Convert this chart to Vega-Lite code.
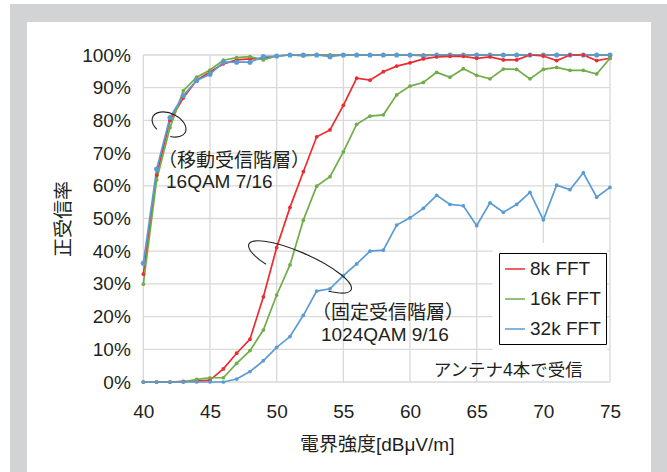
{
  "$schema": "https://vega.github.io/schema/vega-lite/v6.json",
  "width": 466.67,
  "height": 327,
  "autosize": {"type": "none"},
  "padding": {"left": 143.33, "top": 55, "right": 57, "bottom": 90},
  "background": "#ffffff",
  "config": {
    "view": {"stroke": null},
    "font": "Liberation Sans, Noto Sans CJK JP",
    "axis": {
      "grid": false, "domain": false, "ticks": false, "labelOverlap": false,
      "labelFont": "Liberation Sans, Noto Sans CJK JP",
      "titleFont": "Liberation Sans, Noto Sans CJK JP",
      "labelFontSize": 19, "labelColor": "#231f20",
      "titleFontSize": 19, "titleColor": "#231f20", "titleFontWeight": "normal"
    }
  },
  "datasets": {
    "series": [
      {"x":40,"y":33.0,"fft":"8k FFT","layer":"mobile"},{"x":41,"y":63.3,"fft":"8k FFT","layer":"mobile"},{"x":42,"y":80.0,"fft":"8k FFT","layer":"mobile"},{"x":43,"y":86.9,"fft":"8k FFT","layer":"mobile"},{"x":44,"y":92.3,"fft":"8k FFT","layer":"mobile"},{"x":45,"y":94.8,"fft":"8k FFT","layer":"mobile"},{"x":46,"y":97.3,"fft":"8k FFT","layer":"mobile"},{"x":47,"y":98.5,"fft":"8k FFT","layer":"mobile"},{"x":48,"y":98.8,"fft":"8k FFT","layer":"mobile"},{"x":49,"y":99.0,"fft":"8k FFT","layer":"mobile"},{"x":50,"y":99.7,"fft":"8k FFT","layer":"mobile"},{"x":51,"y":100,"fft":"8k FFT","layer":"mobile"},{"x":52,"y":100,"fft":"8k FFT","layer":"mobile"},{"x":53,"y":100,"fft":"8k FFT","layer":"mobile"},{"x":54,"y":100,"fft":"8k FFT","layer":"mobile"},{"x":55,"y":100,"fft":"8k FFT","layer":"mobile"},{"x":56,"y":100,"fft":"8k FFT","layer":"mobile"},{"x":57,"y":100,"fft":"8k FFT","layer":"mobile"},{"x":58,"y":100,"fft":"8k FFT","layer":"mobile"},{"x":59,"y":100,"fft":"8k FFT","layer":"mobile"},{"x":60,"y":100,"fft":"8k FFT","layer":"mobile"},{"x":61,"y":100,"fft":"8k FFT","layer":"mobile"},{"x":62,"y":100,"fft":"8k FFT","layer":"mobile"},{"x":63,"y":100,"fft":"8k FFT","layer":"mobile"},{"x":64,"y":100,"fft":"8k FFT","layer":"mobile"},{"x":65,"y":100,"fft":"8k FFT","layer":"mobile"},{"x":66,"y":100,"fft":"8k FFT","layer":"mobile"},{"x":67,"y":100,"fft":"8k FFT","layer":"mobile"},{"x":68,"y":100,"fft":"8k FFT","layer":"mobile"},{"x":69,"y":100,"fft":"8k FFT","layer":"mobile"},{"x":70,"y":100,"fft":"8k FFT","layer":"mobile"},{"x":71,"y":100,"fft":"8k FFT","layer":"mobile"},{"x":72,"y":100,"fft":"8k FFT","layer":"mobile"},{"x":73,"y":100,"fft":"8k FFT","layer":"mobile"},{"x":74,"y":100,"fft":"8k FFT","layer":"mobile"},{"x":75,"y":100,"fft":"8k FFT","layer":"mobile"},
      {"x":40,"y":29.9,"fft":"16k FFT","layer":"mobile"},{"x":41,"y":61.8,"fft":"16k FFT","layer":"mobile"},{"x":42,"y":77.8,"fft":"16k FFT","layer":"mobile"},{"x":43,"y":89.1,"fft":"16k FFT","layer":"mobile"},{"x":44,"y":93.2,"fft":"16k FFT","layer":"mobile"},{"x":45,"y":95.4,"fft":"16k FFT","layer":"mobile"},{"x":46,"y":98.4,"fft":"16k FFT","layer":"mobile"},{"x":47,"y":99.2,"fft":"16k FFT","layer":"mobile"},{"x":48,"y":99.5,"fft":"16k FFT","layer":"mobile"},{"x":49,"y":98.5,"fft":"16k FFT","layer":"mobile"},{"x":50,"y":99.7,"fft":"16k FFT","layer":"mobile"},{"x":51,"y":100,"fft":"16k FFT","layer":"mobile"},{"x":52,"y":99.7,"fft":"16k FFT","layer":"mobile"},{"x":53,"y":100,"fft":"16k FFT","layer":"mobile"},{"x":54,"y":100,"fft":"16k FFT","layer":"mobile"},{"x":55,"y":100,"fft":"16k FFT","layer":"mobile"},{"x":56,"y":100,"fft":"16k FFT","layer":"mobile"},{"x":57,"y":100,"fft":"16k FFT","layer":"mobile"},{"x":58,"y":100,"fft":"16k FFT","layer":"mobile"},{"x":59,"y":100,"fft":"16k FFT","layer":"mobile"},{"x":60,"y":100,"fft":"16k FFT","layer":"mobile"},{"x":61,"y":100,"fft":"16k FFT","layer":"mobile"},{"x":62,"y":100,"fft":"16k FFT","layer":"mobile"},{"x":63,"y":100,"fft":"16k FFT","layer":"mobile"},{"x":64,"y":100,"fft":"16k FFT","layer":"mobile"},{"x":65,"y":100,"fft":"16k FFT","layer":"mobile"},{"x":66,"y":100,"fft":"16k FFT","layer":"mobile"},{"x":67,"y":100,"fft":"16k FFT","layer":"mobile"},{"x":68,"y":100,"fft":"16k FFT","layer":"mobile"},{"x":69,"y":100,"fft":"16k FFT","layer":"mobile"},{"x":70,"y":100,"fft":"16k FFT","layer":"mobile"},{"x":71,"y":100,"fft":"16k FFT","layer":"mobile"},{"x":72,"y":100,"fft":"16k FFT","layer":"mobile"},{"x":73,"y":100,"fft":"16k FFT","layer":"mobile"},{"x":74,"y":100,"fft":"16k FFT","layer":"mobile"},{"x":75,"y":100,"fft":"16k FFT","layer":"mobile"},
      {"x":40,"y":36.3,"fft":"32k FFT","layer":"mobile"},{"x":41,"y":65.1,"fft":"32k FFT","layer":"mobile"},{"x":42,"y":80.9,"fft":"32k FFT","layer":"mobile"},{"x":43,"y":87.6,"fft":"32k FFT","layer":"mobile"},{"x":44,"y":92.2,"fft":"32k FFT","layer":"mobile"},{"x":45,"y":94.1,"fft":"32k FFT","layer":"mobile"},{"x":46,"y":97.8,"fft":"32k FFT","layer":"mobile"},{"x":47,"y":97.8,"fft":"32k FFT","layer":"mobile"},{"x":48,"y":97.8,"fft":"32k FFT","layer":"mobile"},{"x":49,"y":99.5,"fft":"32k FFT","layer":"mobile"},{"x":50,"y":99.7,"fft":"32k FFT","layer":"mobile"},{"x":51,"y":100,"fft":"32k FFT","layer":"mobile"},{"x":52,"y":100,"fft":"32k FFT","layer":"mobile"},{"x":53,"y":100,"fft":"32k FFT","layer":"mobile"},{"x":54,"y":99.5,"fft":"32k FFT","layer":"mobile"},{"x":55,"y":100,"fft":"32k FFT","layer":"mobile"},{"x":56,"y":100,"fft":"32k FFT","layer":"mobile"},{"x":57,"y":100,"fft":"32k FFT","layer":"mobile"},{"x":58,"y":100,"fft":"32k FFT","layer":"mobile"},{"x":59,"y":100,"fft":"32k FFT","layer":"mobile"},{"x":60,"y":100,"fft":"32k FFT","layer":"mobile"},{"x":61,"y":99.7,"fft":"32k FFT","layer":"mobile"},{"x":62,"y":100,"fft":"32k FFT","layer":"mobile"},{"x":63,"y":100,"fft":"32k FFT","layer":"mobile"},{"x":64,"y":100,"fft":"32k FFT","layer":"mobile"},{"x":65,"y":100,"fft":"32k FFT","layer":"mobile"},{"x":66,"y":100,"fft":"32k FFT","layer":"mobile"},{"x":67,"y":100,"fft":"32k FFT","layer":"mobile"},{"x":68,"y":100,"fft":"32k FFT","layer":"mobile"},{"x":69,"y":100,"fft":"32k FFT","layer":"mobile"},{"x":70,"y":100,"fft":"32k FFT","layer":"mobile"},{"x":71,"y":100,"fft":"32k FFT","layer":"mobile"},{"x":72,"y":100,"fft":"32k FFT","layer":"mobile"},{"x":73,"y":100,"fft":"32k FFT","layer":"mobile"},{"x":74,"y":100,"fft":"32k FFT","layer":"mobile"},{"x":75,"y":100,"fft":"32k FFT","layer":"mobile"},
      {"x":40,"y":0,"fft":"8k FFT","layer":"fixed"},{"x":41,"y":0,"fft":"8k FFT","layer":"fixed"},{"x":42,"y":0,"fft":"8k FFT","layer":"fixed"},{"x":43,"y":0.2,"fft":"8k FFT","layer":"fixed"},{"x":44,"y":0.3,"fft":"8k FFT","layer":"fixed"},{"x":45,"y":0.6,"fft":"8k FFT","layer":"fixed"},{"x":46,"y":4.0,"fft":"8k FFT","layer":"fixed"},{"x":47,"y":8.8,"fft":"8k FFT","layer":"fixed"},{"x":48,"y":13.1,"fft":"8k FFT","layer":"fixed"},{"x":49,"y":26.0,"fft":"8k FFT","layer":"fixed"},{"x":50,"y":41.1,"fft":"8k FFT","layer":"fixed"},{"x":51,"y":53.4,"fft":"8k FFT","layer":"fixed"},{"x":52,"y":64.3,"fft":"8k FFT","layer":"fixed"},{"x":53,"y":75.0,"fft":"8k FFT","layer":"fixed"},{"x":54,"y":77.1,"fft":"8k FFT","layer":"fixed"},{"x":55,"y":84.6,"fft":"8k FFT","layer":"fixed"},{"x":56,"y":92.9,"fft":"8k FFT","layer":"fixed"},{"x":57,"y":92.3,"fft":"8k FFT","layer":"fixed"},{"x":58,"y":94.9,"fft":"8k FFT","layer":"fixed"},{"x":59,"y":96.6,"fft":"8k FFT","layer":"fixed"},{"x":60,"y":97.6,"fft":"8k FFT","layer":"fixed"},{"x":61,"y":98.8,"fft":"8k FFT","layer":"fixed"},{"x":62,"y":99.4,"fft":"8k FFT","layer":"fixed"},{"x":63,"y":99.6,"fft":"8k FFT","layer":"fixed"},{"x":64,"y":99.6,"fft":"8k FFT","layer":"fixed"},{"x":65,"y":99.0,"fft":"8k FFT","layer":"fixed"},{"x":66,"y":99.4,"fft":"8k FFT","layer":"fixed"},{"x":67,"y":98.5,"fft":"8k FFT","layer":"fixed"},{"x":68,"y":98.5,"fft":"8k FFT","layer":"fixed"},{"x":69,"y":100,"fft":"8k FFT","layer":"fixed"},{"x":70,"y":99.7,"fft":"8k FFT","layer":"fixed"},{"x":71,"y":98.3,"fft":"8k FFT","layer":"fixed"},{"x":72,"y":100,"fft":"8k FFT","layer":"fixed"},{"x":73,"y":100,"fft":"8k FFT","layer":"fixed"},{"x":74,"y":98.3,"fft":"8k FFT","layer":"fixed"},{"x":75,"y":99.0,"fft":"8k FFT","layer":"fixed"},
      {"x":40,"y":0,"fft":"16k FFT","layer":"fixed"},{"x":41,"y":0,"fft":"16k FFT","layer":"fixed"},{"x":42,"y":0,"fft":"16k FFT","layer":"fixed"},{"x":43,"y":0,"fft":"16k FFT","layer":"fixed"},{"x":44,"y":0.8,"fft":"16k FFT","layer":"fixed"},{"x":45,"y":1.3,"fft":"16k FFT","layer":"fixed"},{"x":46,"y":1.3,"fft":"16k FFT","layer":"fixed"},{"x":47,"y":5.7,"fft":"16k FFT","layer":"fixed"},{"x":48,"y":9.6,"fft":"16k FFT","layer":"fixed"},{"x":49,"y":15.9,"fft":"16k FFT","layer":"fixed"},{"x":50,"y":26.6,"fft":"16k FFT","layer":"fixed"},{"x":51,"y":35.8,"fft":"16k FFT","layer":"fixed"},{"x":52,"y":49.5,"fft":"16k FFT","layer":"fixed"},{"x":53,"y":59.9,"fft":"16k FFT","layer":"fixed"},{"x":54,"y":62.8,"fft":"16k FFT","layer":"fixed"},{"x":55,"y":70.4,"fft":"16k FFT","layer":"fixed"},{"x":56,"y":78.8,"fft":"16k FFT","layer":"fixed"},{"x":57,"y":81.3,"fft":"16k FFT","layer":"fixed"},{"x":58,"y":81.7,"fft":"16k FFT","layer":"fixed"},{"x":59,"y":87.8,"fft":"16k FFT","layer":"fixed"},{"x":60,"y":90.5,"fft":"16k FFT","layer":"fixed"},{"x":61,"y":91.6,"fft":"16k FFT","layer":"fixed"},{"x":62,"y":94.7,"fft":"16k FFT","layer":"fixed"},{"x":63,"y":93.2,"fft":"16k FFT","layer":"fixed"},{"x":64,"y":95.8,"fft":"16k FFT","layer":"fixed"},{"x":65,"y":93.8,"fft":"16k FFT","layer":"fixed"},{"x":66,"y":92.7,"fft":"16k FFT","layer":"fixed"},{"x":67,"y":95.7,"fft":"16k FFT","layer":"fixed"},{"x":68,"y":95.6,"fft":"16k FFT","layer":"fixed"},{"x":69,"y":92.7,"fft":"16k FFT","layer":"fixed"},{"x":70,"y":95.6,"fft":"16k FFT","layer":"fixed"},{"x":71,"y":96.2,"fft":"16k FFT","layer":"fixed"},{"x":72,"y":95.3,"fft":"16k FFT","layer":"fixed"},{"x":73,"y":95.3,"fft":"16k FFT","layer":"fixed"},{"x":74,"y":94.2,"fft":"16k FFT","layer":"fixed"},{"x":75,"y":99.0,"fft":"16k FFT","layer":"fixed"},
      {"x":40,"y":0,"fft":"32k FFT","layer":"fixed"},{"x":41,"y":0,"fft":"32k FFT","layer":"fixed"},{"x":42,"y":0,"fft":"32k FFT","layer":"fixed"},{"x":43,"y":0,"fft":"32k FFT","layer":"fixed"},{"x":44,"y":0,"fft":"32k FFT","layer":"fixed"},{"x":45,"y":0,"fft":"32k FFT","layer":"fixed"},{"x":46,"y":0,"fft":"32k FFT","layer":"fixed"},{"x":47,"y":0.9,"fft":"32k FFT","layer":"fixed"},{"x":48,"y":3.2,"fft":"32k FFT","layer":"fixed"},{"x":49,"y":6.5,"fft":"32k FFT","layer":"fixed"},{"x":50,"y":10.6,"fft":"32k FFT","layer":"fixed"},{"x":51,"y":13.9,"fft":"32k FFT","layer":"fixed"},{"x":52,"y":20.4,"fft":"32k FFT","layer":"fixed"},{"x":53,"y":27.8,"fft":"32k FFT","layer":"fixed"},{"x":54,"y":28.5,"fft":"32k FFT","layer":"fixed"},{"x":55,"y":32.5,"fft":"32k FFT","layer":"fixed"},{"x":56,"y":36.1,"fft":"32k FFT","layer":"fixed"},{"x":57,"y":40.0,"fft":"32k FFT","layer":"fixed"},{"x":58,"y":40.3,"fft":"32k FFT","layer":"fixed"},{"x":59,"y":48.0,"fft":"32k FFT","layer":"fixed"},{"x":60,"y":50.2,"fft":"32k FFT","layer":"fixed"},{"x":61,"y":53.1,"fft":"32k FFT","layer":"fixed"},{"x":62,"y":57.1,"fft":"32k FFT","layer":"fixed"},{"x":63,"y":54.3,"fft":"32k FFT","layer":"fixed"},{"x":64,"y":53.9,"fft":"32k FFT","layer":"fixed"},{"x":65,"y":47.8,"fft":"32k FFT","layer":"fixed"},{"x":66,"y":54.8,"fft":"32k FFT","layer":"fixed"},{"x":67,"y":51.9,"fft":"32k FFT","layer":"fixed"},{"x":68,"y":54.3,"fft":"32k FFT","layer":"fixed"},{"x":69,"y":58.0,"fft":"32k FFT","layer":"fixed"},{"x":70,"y":49.6,"fft":"32k FFT","layer":"fixed"},{"x":71,"y":60.2,"fft":"32k FFT","layer":"fixed"},{"x":72,"y":58.8,"fft":"32k FFT","layer":"fixed"},{"x":73,"y":64.0,"fft":"32k FFT","layer":"fixed"},{"x":74,"y":56.5,"fft":"32k FFT","layer":"fixed"},{"x":75,"y":59.5,"fft":"32k FFT","layer":"fixed"}
    ],
    "gridx": [{"v":40},{"v":45},{"v":50},{"v":55},{"v":60},{"v":65},{"v":70},{"v":75}],
    "gridy": [{"v":0},{"v":10},{"v":20},{"v":30},{"v":40},{"v":50},{"v":60},{"v":70},{"v":80},{"v":90},{"v":100}],
    "notes": [
      {"x":41.1,"y":67.7,"text":"（移動受信階層）"},
      {"x":41.7,"y":61.3,"text":"16QAM 7/16"},
      {"x":52.65,"y":21.0,"text":"（固定受信階層）"},
      {"x":53.32,"y":14.4,"text":"1024QAM 9/16"}
    ],
    "note2": [{"x":72.96,"y":3.36,"text":"アンテナ4本で受信"}],
    "ell1": [{"x":41.93,"y":78.75}],
    "ell2": [{"x":51.75,"y":35.2}],
    "one": [{}]
  },
  "layer": [
    {
      "data": {"name": "one"},
      "mark": {"type": "rect", "color": "#d1d3d4"},
      "encoding": {
        "x": {"datum": 30.0, "type": "quantitative", "scale": {"domain": [40, 75]},
              "axis": {"values": [40,45,50,55,60,65,70,75], "labelFlush": false, "labelOverlap": false, "labelPadding": 20, "title": "電界強度[dBμV/m]", "titlePadding": 14, "zindex": 2}},
        "x2": {"datum": 80},
        "y": {"datum": 115.6, "type": "quantitative", "scale": {"domain": [0, 100]},
              "axis": {"values": [0,10,20,30,40,50,60,70,80,90,100], "labelOverlap": false, "labelExpr": "datum.value + '%'", "labelPadding": 13, "title": "正受信率", "titlePadding": 8, "zindex": 2}},
        "y2": {"datum": -30}
      }
    },
    {
      "data": {"name": "one"},
      "mark": {"type": "rect", "color": "#ffffff"},
      "encoding": {
        "x": {"datum": 31.27, "type": "quantitative", "scale": {"domain": [40, 75]},
              "axis": {"values": [40,45,50,55,60,65,70,75], "labelFlush": false, "labelOverlap": false, "labelPadding": 20, "title": "電界強度[dBμV/m]", "titlePadding": 14, "zindex": 2}},
        "x2": {"datum": 78.08},
        "y": {"datum": 110.1, "type": "quantitative", "scale": {"domain": [0, 100]},
              "axis": {"values": [0,10,20,30,40,50,60,70,80,90,100], "labelOverlap": false, "labelExpr": "datum.value + '%'", "labelPadding": 13, "title": "正受信率", "titlePadding": 8, "zindex": 2}},
        "y2": {"datum": -30}
      }
    },
    {
      "data": {"name": "gridx"},
      "mark": {"type": "rule", "color": "#d9d9d9", "strokeWidth": 1.3},
      "encoding": {"x": {"field": "v", "type": "quantitative", "scale": {"domain": [40, 75]},
              "axis": {"values": [40,45,50,55,60,65,70,75], "labelFlush": false, "labelOverlap": false, "labelPadding": 20, "title": "電界強度[dBμV/m]", "titlePadding": 14, "zindex": 2}}}
    },
    {
      "data": {"name": "gridy"},
      "mark": {"type": "rule", "color": "#d9d9d9", "strokeWidth": 1.3},
      "encoding": {"y": {"field": "v", "type": "quantitative", "scale": {"domain": [0, 100]},
              "axis": {"values": [0,10,20,30,40,50,60,70,80,90,100], "labelOverlap": false, "labelExpr": "datum.value + '%'", "labelPadding": 13, "title": "正受信率", "titlePadding": 8, "zindex": 2}}}
    },
    {
      "data": {"name": "series"},
      "mark": {"type": "line", "strokeWidth": 1.7},
      "encoding": {
        "x": {"field": "x", "type": "quantitative", "scale": {"domain": [40, 75]},
              "axis": {"values": [40,45,50,55,60,65,70,75], "labelFlush": false, "labelOverlap": false, "labelPadding": 20, "title": "電界強度[dBμV/m]", "titlePadding": 14, "zindex": 2}},
        "y": {"field": "y", "type": "quantitative", "scale": {"domain": [0, 100]},
              "axis": {"values": [0,10,20,30,40,50,60,70,80,90,100], "labelOverlap": false, "labelExpr": "datum.value + '%'", "labelPadding": 13, "title": "正受信率", "titlePadding": 8, "zindex": 2}},
        "color": {"field": "fft", "type": "nominal",
                  "scale": {"domain": ["8k FFT", "16k FFT", "32k FFT"], "range": ["#ee2a2e", "#70ad47", "#5b9bd5"]},
                  "legend": {"title": null, "orient": "none", "legendX": 355.7, "legendY": 198,
                             "symbolType": "stroke", "symbolSize": 400, "symbolStrokeWidth": 1.5,
                             "labelFont": "Liberation Sans", "labelFontSize": 19, "labelColor": "#231f20",
                             "labelOffset": 4, "rowPadding": 9, "padding": 5,
                             "fillColor": "#ffffff", "strokeColor": "#000000", "zindex": 2},
                  "sort": null},
        "detail": {"field": "layer", "type": "nominal"},
        "order": {"field": "x", "type": "quantitative"}
      }
    },
    {
      "data": {"name": "series"},
      "mark": {"type": "point", "filled": true, "opacity": 1},
      "encoding": {
        "x": {"field": "x", "type": "quantitative", "scale": {"domain": [40, 75]},
              "axis": {"values": [40,45,50,55,60,65,70,75], "labelFlush": false, "labelOverlap": false, "labelPadding": 20, "title": "電界強度[dBμV/m]", "titlePadding": 14, "zindex": 2}},
        "y": {"field": "y", "type": "quantitative", "scale": {"domain": [0, 100]},
              "axis": {"values": [0,10,20,30,40,50,60,70,80,90,100], "labelOverlap": false, "labelExpr": "datum.value + '%'", "labelPadding": 13, "title": "正受信率", "titlePadding": 8, "zindex": 2}},
        "color": {"field": "fft", "type": "nominal", "scale": {"domain": ["8k FFT", "16k FFT", "32k FFT"], "range": ["#ee2a2e", "#70ad47", "#5b9bd5"]}},
        "size": {"condition": {"test": "datum.fft === '32k FFT' && datum.layer === 'mobile'", "value": 26}, "value": 14}
      }
    },
    {
      "data": {"name": "one"},
      "mark": {"type": "rect", "color": "#ffffff"},
      "encoding": {
        "x": {"datum": 66.2, "type": "quantitative", "scale": {"domain": [40, 75]},
              "axis": {"values": [40,45,50,55,60,65,70,75], "labelFlush": false, "labelOverlap": false, "labelPadding": 20, "title": "電界強度[dBμV/m]", "titlePadding": 14, "zindex": 2}},
        "x2": {"datum": 74.78},
        "y": {"datum": 42.5, "type": "quantitative", "scale": {"domain": [0, 100]},
              "axis": {"values": [0,10,20,30,40,50,60,70,80,90,100], "labelOverlap": false, "labelExpr": "datum.value + '%'", "labelPadding": 13, "title": "正受信率", "titlePadding": 8, "zindex": 2}},
        "y2": {"datum": 0.8}
      }
    },
    {
      "data": {"name": "notes"},
      "mark": {"type": "text", "align": "left", "baseline": "middle", "fontSize": 19, "color": "#231f20"},
      "encoding": {
        "x": {"field": "x", "type": "quantitative", "scale": {"domain": [40, 75]},
              "axis": {"values": [40,45,50,55,60,65,70,75], "labelFlush": false, "labelOverlap": false, "labelPadding": 20, "title": "電界強度[dBμV/m]", "titlePadding": 14, "zindex": 2}},
        "y": {"field": "y", "type": "quantitative", "scale": {"domain": [0, 100]},
              "axis": {"values": [0,10,20,30,40,50,60,70,80,90,100], "labelOverlap": false, "labelExpr": "datum.value + '%'", "labelPadding": 13, "title": "正受信率", "titlePadding": 8, "zindex": 2}},
        "text": {"field": "text"}
      }
    },
    {
      "data": {"name": "note2"},
      "mark": {"type": "text", "align": "right", "baseline": "middle", "fontSize": 17.5, "color": "#231f20"},
      "encoding": {
        "x": {"field": "x", "type": "quantitative", "scale": {"domain": [40, 75]},
              "axis": {"values": [40,45,50,55,60,65,70,75], "labelFlush": false, "labelOverlap": false, "labelPadding": 20, "title": "電界強度[dBμV/m]", "titlePadding": 14, "zindex": 2}},
        "y": {"field": "y", "type": "quantitative", "scale": {"domain": [0, 100]},
              "axis": {"values": [0,10,20,30,40,50,60,70,80,90,100], "labelOverlap": false, "labelExpr": "datum.value + '%'", "labelPadding": 13, "title": "正受信率", "titlePadding": 8, "zindex": 2}},
        "text": {"field": "text"}
      }
    },
    {
      "data": {"name": "ell1"},
      "mark": {"type": "point", "filled": false, "opacity": 1, "stroke": "#222222", "strokeWidth": 1.1, "size": 1296, "angle": 25,
               "shape": "M-0.5,0.5292 C-1.059,0.332 -1.1705,-0.1319 -0.7278,-0.419 C-0.2851,-0.7061 0.4814,-0.6651 0.8358,-0.3354 C1.1902,-0.0057 0.9486,0.4393 0.342,0.5742"},
      "encoding": {
        "x": {"field": "x", "type": "quantitative", "scale": {"domain": [40, 75]},
              "axis": {"values": [40,45,50,55,60,65,70,75], "labelFlush": false, "labelOverlap": false, "labelPadding": 20, "title": "電界強度[dBμV/m]", "titlePadding": 14, "zindex": 2}},
        "y": {"field": "y", "type": "quantitative", "scale": {"domain": [0, 100]},
              "axis": {"values": [0,10,20,30,40,50,60,70,80,90,100], "labelOverlap": false, "labelExpr": "datum.value + '%'", "labelPadding": 13, "title": "正受信率", "titlePadding": 8, "zindex": 2}}
      }
    },
    {
      "data": {"name": "ell2"},
      "mark": {"type": "point", "filled": false, "opacity": 1, "stroke": "#222222", "strokeWidth": 1.1, "size": 12544, "angle": 24,
               "shape": "M-0.5736,0.2048 C-1.0542,0.1207 -1.1431,-0.0483 -0.766,-0.1607 C-0.3889,-0.2731 0.2922,-0.2805 0.7071,-0.1768 C1.122,-0.0731 1.0922,0.0972 0.6428,0.1915"},
      "encoding": {
        "x": {"field": "x", "type": "quantitative", "scale": {"domain": [40, 75]},
              "axis": {"values": [40,45,50,55,60,65,70,75], "labelFlush": false, "labelOverlap": false, "labelPadding": 20, "title": "電界強度[dBμV/m]", "titlePadding": 14, "zindex": 2}},
        "y": {"field": "y", "type": "quantitative", "scale": {"domain": [0, 100]},
              "axis": {"values": [0,10,20,30,40,50,60,70,80,90,100], "labelOverlap": false, "labelExpr": "datum.value + '%'", "labelPadding": 13, "title": "正受信率", "titlePadding": 8, "zindex": 2}}
      }
    }
  ]
}
